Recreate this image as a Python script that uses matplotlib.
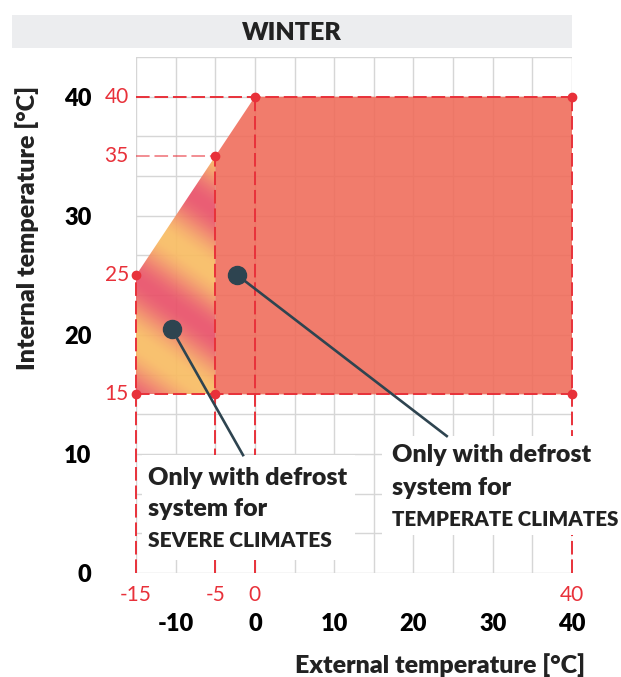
import numpy as np
import matplotlib
matplotlib.use('Agg')
import matplotlib.pyplot as plt
from matplotlib.patches import Polygon, Rectangle

plt.rcParams['font.family'] = ['Lato', 'DejaVu Sans']

# Envelope data
severe_x = [-15, -15, -5, -5]
severe_y = [15, 25, 35, 15]
temperate_x = [-5, -5, 0, 40, 40]
temperate_y = [15, 35, 40, 40, 15]
corner_x = [-15, -15, -5, -5, 0, 40, 40]
corner_y = [25, 15, 35, 15, 40, 40, 15]

# Red reference lines / labels
vline_x = [-15, -5, 0, 40]
vline_top = [25, 35, 40, 40]
hline_y = [15, 35, 40]
hline_right = [40, -5, 40]
red_x_labels = [-15, -5, 0, 40]
red_y_labels = [15, 25, 35, 40]

# Main ticks
x_ticks = [-10, 0, 10, 20, 30, 40]
y_ticks = [0, 10, 20, 30, 40]

# Callouts: marker point and line end
severe_pt = (-10.5, 20.5)
severe_end = (-1.5, 9.9)
temperate_pt = (-2.2, 25.0)
temperate_end = (24.2, 11.5)

RED = '#E8313A'
DARK = '#2E4450'
TXT = '#222222'
BW = 'heavy'

fig = plt.figure(figsize=(6.21, 6.77), dpi=100)
ax = fig.add_axes([136/621, 1-573/677, 436/621, 516/677])
ax.set_xlim(-15, 40)
ax.set_ylim(0, 40*13/12)

# title bar
fig.patches.append(Rectangle((12/621, 1-48/677), 560/621, 33/677, transform=fig.transFigure,
                             facecolor='#ECEDEF', edgecolor='none', zorder=0))
fig.text(292/621, 1-33/677, 'WINTER', ha='center', va='center', fontsize=18, fontweight=BW, color=TXT)

# grid
for gx in np.arange(-15, 41, 5):
    ax.axvline(gx, color='#d6d6d6', lw=1, zorder=1)
for gy in np.arange(0, 14) * 40/12:
    ax.axhline(gy, color='#d6d6d6', lw=1, zorder=1)
for s in ax.spines.values():
    s.set_visible(False)

# temperate region
ax.add_patch(Polygon(list(zip(temperate_x, temperate_y)), closed=True,
                     facecolor='#F06A58', edgecolor='none', alpha=0.88, zorder=2))

# severe region - striped gradient
gx_, gy_ = np.meshgrid(np.linspace(-15, -5, 200), np.linspace(15, 35, 400))
u = gy_ + 0.47*(gx_ + 15) - 24.6
w = ((1 + np.cos(2*np.pi*u/10.4)) / 2) ** 1.1
c_red = np.array([233, 82, 106]) / 255
c_yel = np.array([249, 190, 100]) / 255
img = c_yel[None, None, :]*(1 - w[..., None]) + c_red[None, None, :]*w[..., None]
poly = Polygon(list(zip(severe_x, severe_y)), closed=True, facecolor='none', edgecolor='none')
ax.add_patch(poly)
im = ax.imshow(img, extent=[-15, -5, 15, 35], origin='lower', aspect='auto', zorder=2, alpha=0.93)
im.set_clip_path(poly)

# dashed reference lines
for x, top in zip(vline_x, vline_top):
    ax.plot([x, x], [0, top], color=RED, lw=1.4, dashes=(7, 2.5), zorder=3, clip_on=False)
for y, right in zip(hline_y, hline_right):
    a = 0.55 if y == 35 else 1
    ax.plot([-15, right], [y, y], color=RED, lw=1.4, dashes=(7, 2.5), zorder=3, alpha=a, clip_on=False)
ax.plot(corner_x, corner_y, 'o', color=RED, ms=6, zorder=4, clip_on=False)

# red labels
for x in red_x_labels:
    ax.text(x, -1.0, str(x), ha='center', va='top', color=RED, fontsize=15)
for y in red_y_labels:
    ax.text(-15.9, y, str(y), ha='right', va='center', color=RED, fontsize=15)

# bold ticks
ax.set_xticks(x_ticks)
ax.set_yticks(y_ticks)
ax.tick_params(length=0, labelsize=17)
ax.tick_params(axis='x', pad=29)
ax.tick_params(axis='y', pad=32)
ax.set_xticklabels([str(t) for t in x_ticks], fontweight=BW)
ax.set_yticklabels([str(t) for t in y_ticks], fontweight=BW)

fig.text(585/621, 1-665/677, 'External temperature [°C]', ha='right', va='center',
         fontsize=18, fontweight=BW, color=TXT)
fig.text(27/621, 1-228/677, 'Internal temperature [°C]', ha='center', va='center', rotation=90,
         fontsize=18, fontweight=BW, color=TXT)

# callout boxes
ax.add_patch(Rectangle((-14.3, 1.1), 26.9, 8.85, facecolor='white', edgecolor='none', zorder=5))
ax.add_patch(Rectangle((16.0, 3.2), 31, 8.3, facecolor='white', edgecolor='none', zorder=5, clip_on=False))

for pt, end in [(severe_pt, severe_end), (temperate_pt, temperate_end)]:
    ax.plot([pt[0], end[0]], [pt[1], end[1]], color=DARK, lw=1.9, zorder=6)
    ax.plot(pt[0], pt[1], 'o', color=DARK, ms=13, zorder=7)

ax.text(-13.5, 7.4, 'Only with defrost', fontsize=18, fontweight=BW, color=TXT, zorder=8, va='baseline')
ax.text(-13.5, 4.75, 'system for', fontsize=18, fontweight=BW, color=TXT, zorder=8, va='baseline')
ax.text(-13.5, 2.15, 'SEVERE CLIMATES', fontsize=15, fontweight=BW, color=TXT, zorder=8, va='baseline')
ax.text(17.3, 9.28, 'Only with defrost', fontsize=18, fontweight=BW, color=TXT, zorder=8, va='baseline', clip_on=False)
ax.text(17.3, 6.58, 'system for', fontsize=18, fontweight=BW, color=TXT, zorder=8, va='baseline', clip_on=False)
ax.text(17.3, 3.97, 'TEMPERATE CLIMATES', fontsize=14.8, fontweight=BW, color=TXT, zorder=8, va='baseline', clip_on=False)

fig.savefig('out.png', dpi=100)
